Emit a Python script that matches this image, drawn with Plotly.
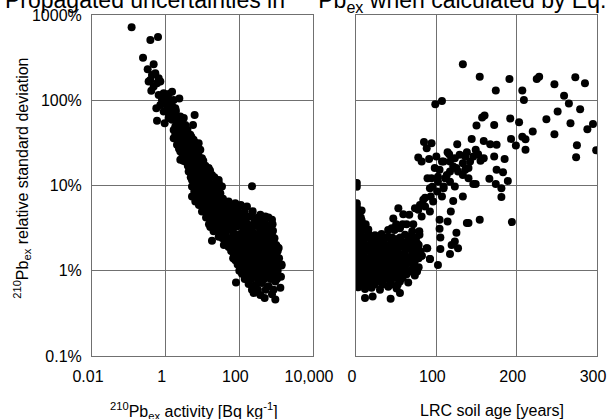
import plotly.graph_objects as go

# ---- Left panel: 210Pb_ex activity [Bq/kg] vs relative standard deviation [%]
pb_activity = [
    0.119, 0.384, 0.619, 0.243, 0.472, 0.325, 0.426, 0.524, 0.646, 0.384, 0.582, 0.717, 0.472, 0.408, 0.345,
    0.646, 0.883, 1.21, 1.49, 1.09, 0.795, 1.65, 2.35, 1.34,
    0.717, 0.98, 1.34, 0.558, 1.83, 0.883, 1.21, 1.65, 2.50, 6.12,
    1.1, 1.5, 1.0, 1.4, 1.9, 1.2, 1.8, 3.1,
    0.582, 0.94, 1.49, 2.03, 2.78, 1.83, 2.50, 3.42, 5.52, 1.65,
    2.0, 2.8, 3.9, 2.0, 2.8, 3.8, 5.0,
    1.83, 2.50, 3.42, 4.67, 2.25, 3.08, 4.21, 5.75, 1.65, 7.87,
    2.3, 3.3, 4.5, 6.2, 2.3, 3.1, 4.1, 5.6, 7.5,
    2.03, 2.78, 3.79, 5.19, 7.09, 2.50, 3.42, 4.67, 6.39, 8.73,
    2.9, 3.9, 5.5, 7.8, 3.0, 4.0, 5.6, 7.6, 10.5,
    2.50, 3.79, 5.19, 7.09, 9.69, 4.67, 6.39, 8.73, 14.7, 3.42,
    4.0, 5.3, 7.5, 10.0, 12.0, 5.0, 6.5, 9.0, 12.0, 16.0,
    4.21, 5.75, 7.87, 10.8, 5.19, 7.09, 9.69, 13.2, 27.5, 18.1,
    4.8, 6.5, 8.5, 11.5, 16.0, 21.0, 6.0, 8.5, 11.0, 15.0, 21.0, 28.0,
    5.19, 7.09, 9.69, 13.2, 18.1, 24.8, 33.8, 5.19, 7.87, 11.9, 20.1, 30.5, 221,
    6.0, 8.5, 11.5, 16.0, 22.0, 28.0, 6.5, 9.0, 13.5, 17.0, 25.0, 36.0,
    6.39, 9.69, 14.7, 22.3, 33.8, 51.3, 77.8, 11.9, 18.1, 27.5, 41.7, 63.2, 95.9, 161,
    8.0, 12.0, 16.5, 25.0, 30.0, 45.0, 70.0, 110,
    12.0, 17.0, 26.0, 38.0, 58.0, 88.0, 140, 230,
    9.69, 14.7, 22.3, 33.8, 51.3, 77.8, 118, 179, 372, 508, 770,
    12.5, 20.0, 30.0, 46.0, 70.0, 105, 160, 240, 330, 450, 620,
    18.1, 27.5, 41.7, 63.2, 95.9, 146, 272, 412,
    15.0, 22.0, 33.0, 50.0, 75.0, 110, 165, 240, 350, 520, 800,
    16.3, 24.8, 37.6, 57.0, 86.5, 131, 199, 302, 458, 695,
    20.0, 30.2, 46.0, 69.0, 105, 160, 240, 365, 560, 820,
    18.1, 27.5, 41.7, 63.2, 95.9, 146, 221, 335, 508, 770,
    35.0, 52.0, 80.0, 120, 180, 280, 420, 640, 900,
    46.0, 70.0, 106, 160, 245, 372, 560, 850, 1050,
    38.0, 58.0, 88.0, 130, 200, 300, 460, 700, 1000,
    51.3, 77.8, 118, 179, 272, 412, 625, 949, 1170,
    60.0, 90.0, 135, 200, 300, 460, 700, 1100,
    70.0, 106, 160, 245, 372, 560, 850, 1050,
    68.0, 100, 150, 220, 330, 500, 760, 1200,
    77.8, 118, 179, 272, 412, 625, 949,
    90.0, 135, 200, 300, 460, 700, 1000, 1400,
    106, 160, 245, 372, 560, 850, 1050,
    100, 145, 220, 330, 480, 720, 1100,
    118, 179, 272, 412, 625, 855, 81.2,
    140, 210, 320, 480, 720, 1050,
    179, 272, 412, 625, 949, 1300,
    220, 320, 520, 850,
    245, 372, 487, 770, 949,
    1400, 1350,
]
pb_rsd = [
    717, 509, 552, 316, 264, 231, 198, 207, 181, 173, 158, 166, 145, 129, 166,
    115, 121, 118, 126, 105, 101, 101, 105, 96.5,
    88.1, 92.2, 80.5, 80.5, 80.5, 73.6, 70.4, 67.3, 64.4, 67.3,
    85, 85, 75, 75, 75, 62, 62, 62,
    57.3, 53.7, 58.9, 56.2, 58.9, 49.1, 49.1, 51.4, 51.4, 44.9,
    45, 45, 45, 37, 37, 37, 37,
    39.3, 41.0, 42.9, 39.3, 34.3, 34.3, 35.9, 34.3, 35.9, 31.4,
    32, 32, 32, 32, 27, 27, 27, 27, 27,
    30.0, 28.7, 28.7, 30.0, 28.7, 25.0, 23.9, 25.0, 25.0, 26.2,
    22.5, 22.5, 22.5, 22.5, 19.5, 19.5, 19.5, 19.5, 19.5,
    20.0, 20.9, 20.9, 21.9, 20.9, 18.3, 17.5, 18.3, 16.0, 19.1,
    17, 17, 17, 17, 17, 15, 15, 15, 15, 15,
    14.6, 13.3, 14.6, 13.3, 11.6, 11.1, 11.6, 12.2, 11.6, 13.3,
    12.5, 12.5, 12.5, 12.5, 12.5, 12.5, 10.5, 10.5, 10.5, 10.5, 10.5, 10.5,
    9.73, 9.31, 9.73, 8.89, 9.31, 10.2, 9.73, 7.43, 7.78, 7.43, 7.78, 8.13, 9.82,
    8.5, 8.5, 8.5, 8.5, 8.5, 8.5, 7.0, 7.0, 7.0, 7.0, 7.0, 7.0,
    6.49, 6.21, 6.49, 6.49, 6.79, 6.49, 6.21, 5.42, 5.42, 5.19, 5.42, 5.52, 5.68, 5.68,
    5.9, 5.9, 5.9, 5.9, 5.9, 5.9, 5.9, 5.9,
    5.0, 5.0, 5.0, 5.0, 5.0, 5.0, 5.0, 5.0,
    4.96, 4.53, 4.53, 4.53, 4.53, 4.53, 4.53, 4.33, 4.53, 4.33, 3.96,
    4.2, 4.2, 4.2, 4.2, 4.2, 4.2, 4.2, 4.2, 4.2, 4.2, 4.2,
    3.79, 3.79, 3.79, 3.96, 3.79, 3.79, 3.96, 3.79,
    3.5, 3.5, 3.5, 3.5, 3.5, 3.5, 3.5, 3.5, 3.5, 3.5, 3.5,
    3.25, 3.05, 3.20, 3.10, 3.30, 3.00, 3.20, 3.35, 3.05, 3.20,
    2.90, 2.75, 2.95, 2.80, 2.70, 2.95, 2.80, 2.90, 2.75, 2.95,
    2.25, 2.50, 2.60, 2.45, 2.60, 2.50, 2.65, 2.45, 2.55, 2.60,
    2.40, 2.40, 2.40, 2.40, 2.40, 2.40, 2.40, 2.40, 2.40,
    2.25, 2.15, 2.30, 2.10, 2.20, 2.30, 2.15, 2.25, 1.93,
    2.0, 2.0, 2.0, 2.0, 2.0, 2.0, 2.0, 2.0, 2.0,
    1.90, 1.80, 1.95, 1.85, 1.75, 1.90, 1.80, 1.95, 1.85,
    1.7, 1.7, 1.7, 1.7, 1.7, 1.7, 1.7, 1.7,
    1.60, 1.50, 1.55, 1.45, 1.60, 1.50, 1.58, 1.47,
    1.4, 1.4, 1.4, 1.4, 1.4, 1.4, 1.4, 1.4,
    1.33, 1.25, 1.30, 1.35, 1.22, 1.30, 1.27,
    1.18, 1.18, 1.18, 1.18, 1.18, 1.18, 1.18, 1.18,
    1.10, 1.05, 1.12, 1.02, 1.08, 1.10, 0.98,
    1.0, 1.0, 1.0, 1.0, 1.0, 1.0, 1.0,
    0.92, 0.87, 0.90, 0.85, 0.93, 0.88, 0.73,
    0.8, 0.8, 0.8, 0.8, 0.8, 0.8,
    0.70, 0.68, 0.72, 0.66, 0.75, 0.63,
    0.6, 0.6, 0.6, 0.6,
    0.55, 0.52, 0.48, 0.53, 0.46,
    1.15, 0.85,
]

# ---- Right panel: LRC soil age [years] vs relative standard deviation [%]
lrc_age = [
    133, 154, 191, 174, 207, 209, 225, 228, 247, 273, 285, 259, 265, 279, 251, 237, 267, 295, 288, 247,
    275, 299, 274, 220, 211, 207, 211, 199, 192, 203, 193, 194, 98.7, 107, 160, 157, 150, 172, 144, 159,
    167, 175, 149, 155, 172, 185, 175, 183, 166, 189, 174, 181, 181, 149, 146, 154, 140, 138,
    126, 114, 138, 129, 123, 133, 140, 125, 117, 133, 140, 109, 113, 123, 109, 133, 121, 118, 114,
    104, 104, 125, 123, 119, 127, 117, 105, 105, 102,
    117, 121, 127, 136, 142, 146, 152, 159, 136,
    84.6, 94, 88, 77.5, 81.7, 91, 100, 107, 116, 98, 104, 94, 89, 102, 111, 117, 95, 102, 92, 109,
    93, 107, 101, 83.7, 96, 86, 77.5, 92, 81.7, 73.4, 66.3, 58.8, 52.7, 46.4, 63, 71.3, 78.8, 79, 70,
    61, 54.7, 44.4, 86, 79.6, 88.7, 92, 81.5, 77.4,
    1, 1, 1, 1,
    0, 7.0,
    0, 6.0,
    0, 7.0,
    0, 5.0, 12.0, 50.0, 58.0,
    0, 8.0, 40.0, 48.0,
    0, 7.0, 15.3,
    0, 7.0, 15.3, 23.6, 31.8, 40.1, 69.1,
    3, 12, 20, 28, 36, 45, 55, 65, 75,
    3, 10, 19, 27, 35, 44, 52, 60, 68, 76,
    4, 11, 19, 28, 36, 44, 52, 61, 69, 78,
    0, 7.0, 15.3, 23.6, 31.8, 40.1, 48.4, 56.7, 65.0, 73.2, 87.8,
    3, 11, 19, 27, 36, 44, 52, 61, 70, 80,
    3, 10, 19, 27, 35, 44, 52, 60, 68, 77, 82,
    4, 12, 20, 28, 36, 44, 53, 61, 69, 78,
    0, 7.0, 15.3, 23.6, 31.8, 40.1, 48.4, 56.7, 65.0, 73.2, 92.0,
    3, 11, 19, 27, 36, 44, 52, 62, 72,
    3, 10, 19, 27, 35, 44, 52, 60, 70, 78,
    4, 12, 20, 28, 36, 45, 55, 66, 76,
    0, 7.0, 15.3, 23.6, 31.8, 40.1, 50.5, 63.0, 73.2,
    3, 12, 21, 29, 38, 47, 58,
    1.2, 9.1, 17.4, 25.7, 33.9, 42.3, 54.7, 65.0,
    5, 14, 23, 33, 44, 52,
    2.9, 11.2, 19.4, 29.8, 40.1, 50.5,
    11.2, 20.7, 43.1, 54.7,
]
lrc_rsd = [
    264, 189, 178, 130, 130, 101, 178, 189, 154, 186, 158, 113, 91.4, 78.5, 73.6, 59.8, 53.7, 52.8, 45.7, 40.0,
    29.7, 25.9, 21.5, 42.9, 34.9, 37.2, 26.2, 29.4, 60.9, 55.2, 35.2, 3.72, 89.8, 98.0, 66.1, 62.6, 50.5, 51.4, 35.2, 33.3,
    30.5, 30.0, 26.2, 19.5, 21.9, 20.5, 15.3, 14.3, 12.0, 11.3, 10.4, 9.31, 7.35, 10.4, 10.4, 3.96, 3.62, 3.62,
    30.5, 24.5, 24.5, 22.9, 20.9, 18.3, 16.0, 16.0, 14.6, 13.3, 12.2, 19.1, 13.3, 9.73, 9.31, 7.43, 6.6, 4.96, 3.79,
    3.96, 3.1, 2.8, 2.21, 2.0, 1.84, 1.57, 2.45, 1.80, 1.17,
    19.1, 16.7, 14.6, 15.3, 19.1, 21.9, 23.3, 20.9, 21.9,
    32.3, 31.4, 27.4, 21.3, 19.1, 20.5, 21.9, 19.1, 23.3, 16.0, 15.3, 12.2, 12.2, 12.7, 12.2, 11.1, 9.7, 11.1, 9.31, 9.73,
    7.43, 7.43, 8.5, 6.8, 6.49, 5.68, 5.19, 4.96, 4.33, 5.42, 4.53, 4.6, 5.42, 4.1, 3.5, 3.5, 2.9, 2.64, 2.9,
    2.64, 3.16, 3.16, 7.2, 5.9, 1.84, 1.37, 1.5, 1.79,
    10.7, 9.7, 6.2, 5.7,
    5.42, 5.1,
    4.53, 4.2,
    3.79, 3.9,
    3.5, 3.5, 3.5, 3.5, 3.5,
    3.0, 3.0, 3.0, 3.0,
    3.16, 3.3, 3.05,
    2.70, 2.55, 2.75, 2.60, 2.70, 2.50, 2.60,
    2.45, 2.45, 2.45, 2.45, 2.45, 2.45, 2.45, 2.45, 2.45,
    2.30, 2.15, 2.25, 2.10, 2.30, 2.20, 2.35, 2.15, 2.25, 2.10,
    2.0, 2.0, 2.0, 2.0, 2.0, 2.0, 2.0, 2.0, 2.0, 2.0,
    1.90, 1.80, 1.85, 1.95, 1.78, 1.88, 1.80, 1.92, 1.85, 1.80, 1.84,
    1.68, 1.68, 1.68, 1.68, 1.68, 1.68, 1.68, 1.68, 1.68, 1.68,
    1.58, 1.50, 1.60, 1.48, 1.55, 1.60, 1.50, 1.56, 1.47, 1.55, 1.50,
    1.4, 1.4, 1.4, 1.4, 1.4, 1.4, 1.4, 1.4, 1.4, 1.4,
    1.30, 1.25, 1.33, 1.27, 1.30, 1.24, 1.32, 1.28, 1.25, 1.30, 1.37,
    1.17, 1.17, 1.17, 1.17, 1.17, 1.17, 1.17, 1.17, 1.17,
    1.10, 1.05, 1.08, 1.03, 1.10, 1.06, 1.02, 1.09, 1.05, 1.10,
    0.98, 0.98, 0.98, 0.98, 0.98, 0.98, 0.98, 0.98, 0.98,
    0.92, 0.88, 0.90, 0.86, 0.93, 0.89, 0.87, 0.91, 0.88,
    0.82, 0.82, 0.82, 0.82, 0.82, 0.82, 0.82,
    0.77, 0.73, 0.76, 0.74, 0.78, 0.72, 0.75, 0.73,
    0.69, 0.69, 0.69, 0.69, 0.69, 0.69,
    0.64, 0.61, 0.63, 0.60, 0.65, 0.62,
    0.48, 0.50, 0.47, 0.55,
]

# ---- Axis ticks
rsd_ticks = [0.1, 1, 10, 100, 1000]
rsd_tick_text = ["0.1%", "1%", "10%", "100%", "1000%"]
activity_ticks = [0.01, 1, 100, 10000]
activity_tick_text = ["0.01", "1", "100", "10,000"]
age_ticks = [0, 100, 200, 300]
age_tick_text = ["0", "100", "200", "300"]

FONT = "Liberation Sans, Arial, Helvetica, sans-serif"
LINE = "#707070"

fig = go.Figure()
marker = dict(color="black", size=8, line=dict(width=0))
fig.add_trace(go.Scatter(x=pb_activity, y=pb_rsd, mode="markers", marker=marker,
                         xaxis="x", yaxis="y", showlegend=False))
fig.add_trace(go.Scatter(x=lrc_age, y=lrc_rsd, mode="markers", marker=marker,
                         xaxis="x2", yaxis="y2", showlegend=False))

axis_common = dict(showline=True, mirror=True, linecolor=LINE, linewidth=1,
                   showgrid=True, gridcolor=LINE, gridwidth=1, zeroline=False,
                   automargin=False, ticks="",
                   tickfont=dict(family=FONT, size=16, color="black"))

fig.update_layout(
    width=608, height=419,
    margin=dict(l=92, r=11, t=15, b=63, autoexpand=False),
    paper_bgcolor="white", plot_bgcolor="white",
    font=dict(family=FONT, size=16, color="black"),
    title=dict(
        text="Propagated uncertainties in <sup>210</sup>Pb<sub>ex</sub> when calculated by Eq. (1)",
        font=dict(family=FONT, size=23, color="black"),
        x=5 / 608, xref="container", xanchor="left",
        y=1, yref="container", yanchor="middle",
    ),
    xaxis=dict(type="log", range=[-2, 4], domain=[0, 0.4376], anchor="y",
               tickvals=activity_ticks, ticktext=activity_tick_text,
               ticklabelshift=-4, ticklabelstandoff=6, **axis_common),
    yaxis=dict(type="log", range=[-1, 3], anchor="x",
               tickvals=rsd_ticks, ticktext=rsd_tick_text,
               ticklabelstandoff=6, **axis_common),
    xaxis2=dict(range=[0, 300], domain=[0.5228, 1], anchor="y2",
                tickvals=age_ticks, ticktext=age_tick_text,
                ticklabelshift=-4, ticklabelstandoff=6, **axis_common),
    yaxis2=dict(type="log", range=[-1, 3], anchor="x2", matches="y",
                tickvals=rsd_ticks, showticklabels=False, **axis_common),
    annotations=[
        dict(text="<sup>210</sup>Pb<sub>ex</sub> activity [Bq kg<sup>-1</sup>]",
             xref="paper", yref="paper", x=0.202, y=-0.161,
             xanchor="center", yanchor="middle", showarrow=False,
             font=dict(family=FONT, size=16, color="black")),
        dict(text="LRC soil age [years]",
             xref="paper", yref="paper", x=0.792, y=-0.161,
             xanchor="center", yanchor="middle", showarrow=False,
             font=dict(family=FONT, size=16, color="black")),
        dict(text="<sup>210</sup>Pb<sub>ex</sub> relative standard deviation",
             xref="paper", yref="paper", x=-0.139, y=0.522, textangle=-90,
             xanchor="center", yanchor="middle", showarrow=False,
             font=dict(family=FONT, size=16, color="black")),
    ],
)

fig.write_html("out.html")
